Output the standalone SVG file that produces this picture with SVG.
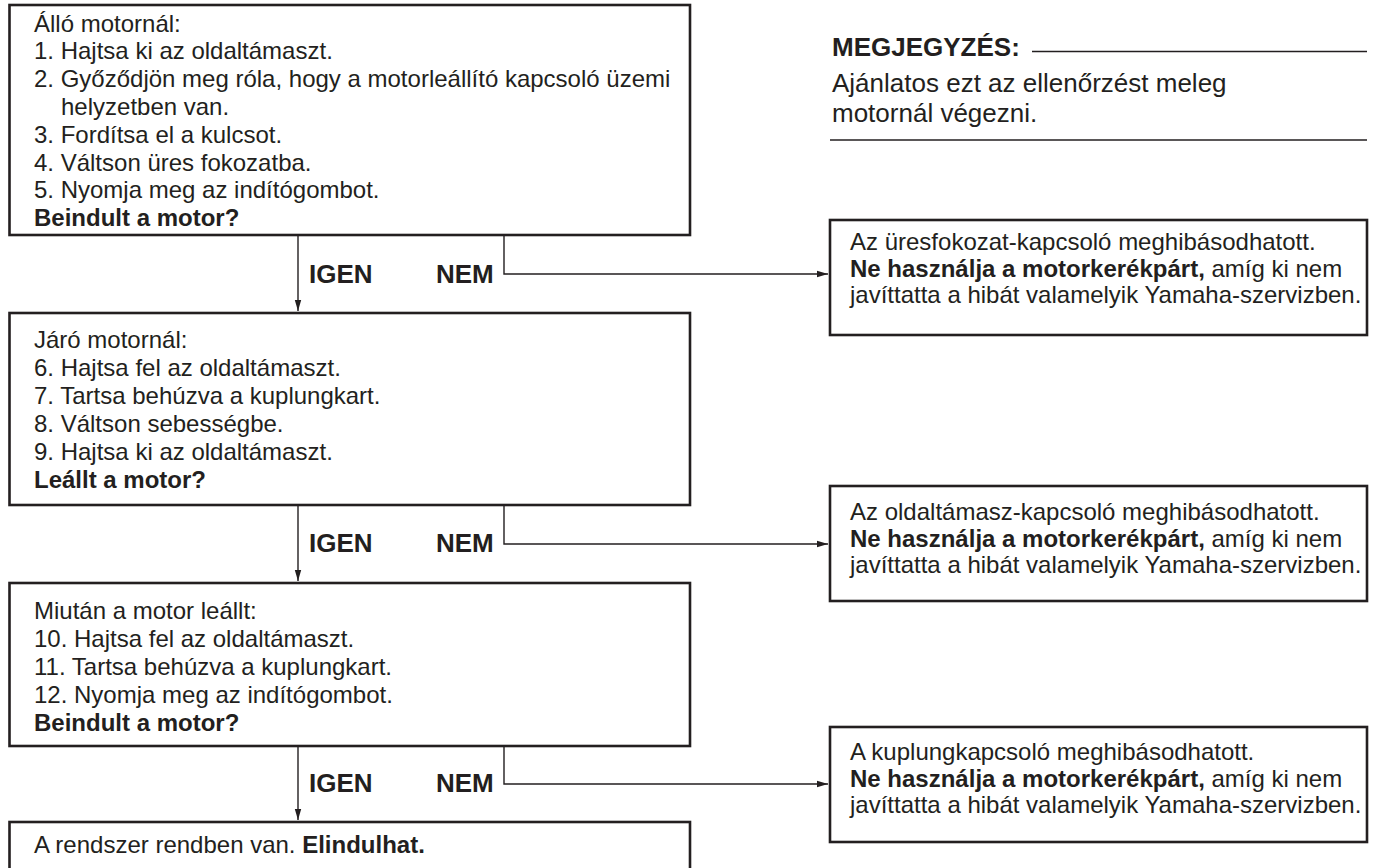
<svg xmlns="http://www.w3.org/2000/svg" width="1373" height="868" viewBox="0 0 1373 868">
<defs>
<style>
.box{fill:#fff;stroke:#231f20;stroke-width:2.6}
.t{font-family:"Liberation Sans",Arial,Helvetica,sans-serif;font-size:24px;fill:#231f20}
.b{font-weight:bold}
.lbl{font-family:"Liberation Sans",Arial,Helvetica,sans-serif;font-size:26px;font-weight:bold;fill:#231f20}
.note{font-family:"Liberation Sans",Arial,Helvetica,sans-serif;font-size:26px;fill:#231f20}
.c{fill:none;stroke:#231f20;stroke-width:1.4}
.rule{stroke:#231f20;stroke-width:1.4}
</style>
<marker id="ah" markerUnits="userSpaceOnUse" markerWidth="12" markerHeight="8" refX="11" refY="4" orient="auto">
<path d="M0,0.8 L11,4 L0,7.2 z" fill="#231f20"/>
</marker>
</defs>
<rect width="1373" height="868" fill="#fff"/>

<g id="note">
<text class="note b" x="832" y="56">MEGJEGYZÉS:</text>
<line class="rule" x1="1032" y1="51.5" x2="1367" y2="51.5"/>
<text class="note" x="832" y="92">Ajánlatos ezt az ellenőrzést meleg</text>
<text class="note" x="832" y="122">motornál végezni.</text>
<line class="rule" x1="830" y1="140" x2="1367" y2="140"/>
</g>

<g id="connectors">
<path class="c" d="M298,235 V311" marker-end="url(#ah)"/>
<path class="c" d="M504,235 V274 H828" marker-end="url(#ah)"/>
<path class="c" d="M298,505 V581" marker-end="url(#ah)"/>
<path class="c" d="M504,505 V544 H828" marker-end="url(#ah)"/>
<path class="c" d="M298,746 V820" marker-end="url(#ah)"/>
<path class="c" d="M504,746 V784 H828" marker-end="url(#ah)"/>
<text class="lbl" x="309" y="283">IGEN</text>
<text class="lbl" x="436" y="283">NEM</text>
<text class="lbl" x="309" y="552">IGEN</text>
<text class="lbl" x="436" y="552">NEM</text>
<text class="lbl" x="309" y="792">IGEN</text>
<text class="lbl" x="436" y="792">NEM</text>
</g>

<g id="step1">
<rect class="box" x="9.5" y="5" width="680.5" height="230"/>
<text class="t" x="34" y="31.5">Álló motornál:</text>
<text class="t" x="34" y="59.3">1. Hajtsa ki az oldaltámaszt.</text>
<text class="t" x="34" y="87.1">2. Győződjön meg róla, hogy a motorleállító kapcsoló üzemi</text>
<text class="t" x="61" y="114.9">helyzetben van.</text>
<text class="t" x="34" y="142.7">3. Fordítsa el a kulcsot.</text>
<text class="t" x="34" y="170.5">4. Váltson üres fokozatba.</text>
<text class="t" x="34" y="198.3">5. Nyomja meg az indítógombot.</text>
<text class="t b" x="34" y="226.1">Beindult a motor?</text>
</g>

<g id="step2">
<rect class="box" x="9.5" y="313" width="680.5" height="192"/>
<text class="t" x="34" y="348">Járó motornál:</text>
<text class="t" x="34" y="376">6. Hajtsa fel az oldaltámaszt.</text>
<text class="t" x="34" y="404">7. Tartsa behúzva a kuplungkart.</text>
<text class="t" x="34" y="432">8. Váltson sebességbe.</text>
<text class="t" x="34" y="460">9. Hajtsa ki az oldaltámaszt.</text>
<text class="t b" x="34" y="488">Leállt a motor?</text>
</g>

<g id="step3">
<rect class="box" x="9.5" y="583" width="680.5" height="163"/>
<text class="t" x="34" y="619">Miután a motor leállt:</text>
<text class="t" x="34" y="647">10. Hajtsa fel az oldaltámaszt.</text>
<text class="t" x="34" y="675">11. Tartsa behúzva a kuplungkart.</text>
<text class="t" x="34" y="703">12. Nyomja meg az indítógombot.</text>
<text class="t b" x="34" y="731">Beindult a motor?</text>
</g>

<g id="result">
<rect class="box" x="9.5" y="822" width="680.5" height="70"/>
<text class="t" x="34" y="853">A rendszer rendben van. <tspan class="b">Elindulhat.</tspan></text>
</g>

<g id="fault1">
<rect class="box" x="830" y="220" width="537" height="115"/>
<text class="t" x="850" y="250">Az üresfokozat-kapcsoló meghibásodhatott.</text>
<text class="t" x="850" y="277"><tspan class="b">Ne használja a motorkerékpárt,</tspan> amíg ki nem</text>
<text class="t" x="850" y="303">javíttatta a hibát valamelyik Yamaha-szervizben.</text>
</g>

<g id="fault2">
<rect class="box" x="830" y="486" width="537" height="115"/>
<text class="t" x="850" y="520">Az oldaltámasz-kapcsoló meghibásodhatott.</text>
<text class="t" x="850" y="547"><tspan class="b">Ne használja a motorkerékpárt,</tspan> amíg ki nem</text>
<text class="t" x="850" y="573">javíttatta a hibát valamelyik Yamaha-szervizben.</text>
</g>

<g id="fault3">
<rect class="box" x="830" y="727" width="537" height="115"/>
<text class="t" x="850" y="760">A kuplungkapcsoló meghibásodhatott.</text>
<text class="t" x="850" y="787"><tspan class="b">Ne használja a motorkerékpárt,</tspan> amíg ki nem</text>
<text class="t" x="850" y="813">javíttatta a hibát valamelyik Yamaha-szervizben.</text>
</g>
</svg>
